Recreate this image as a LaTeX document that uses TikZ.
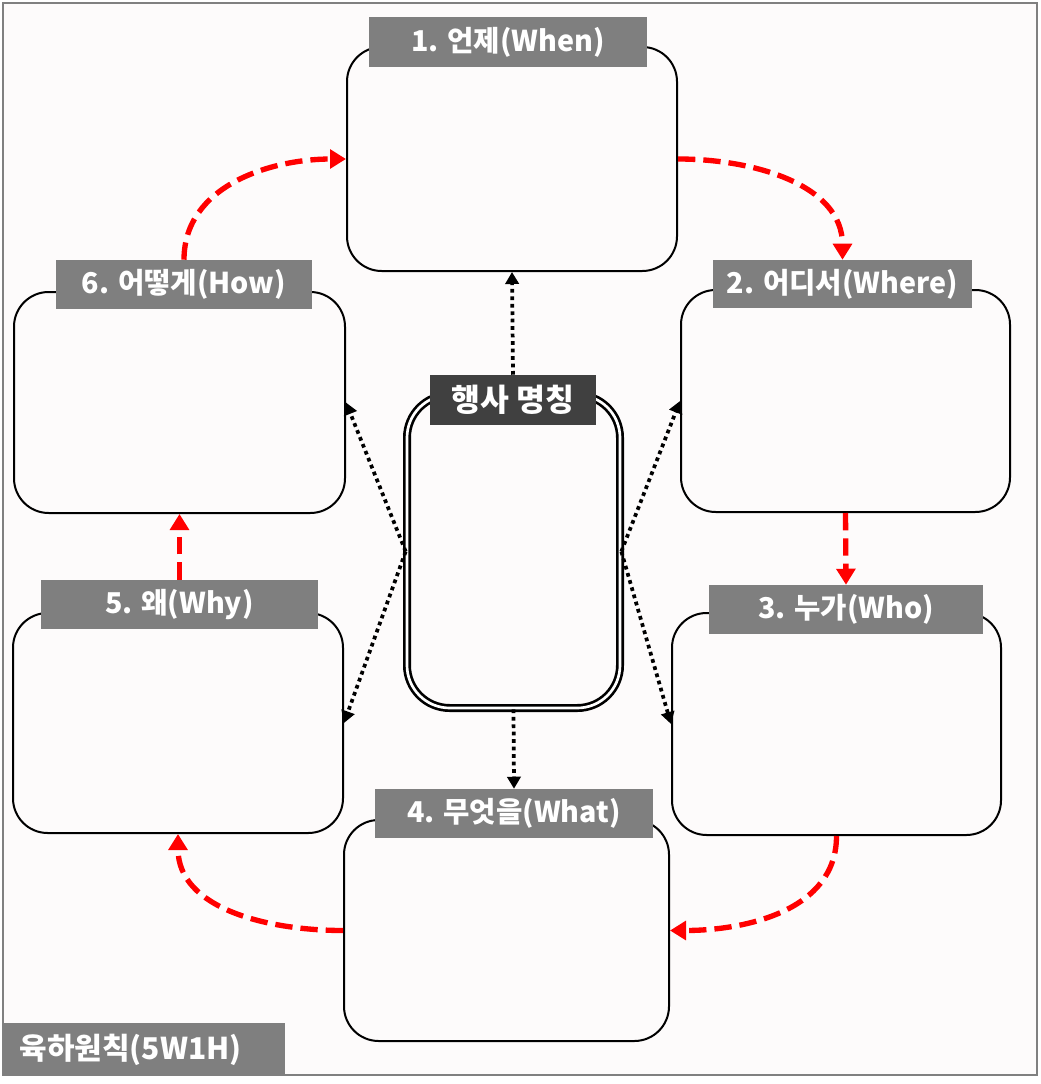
\documentclass[tikz,border=0pt]{standalone}
\usepackage{fontspec}
\setmainfont{Noto Sans CJK KR}
\usetikzlibrary{arrows.meta,fit}
\definecolor{labgray}{HTML}{7F7F7F}
\definecolor{darklab}{HTML}{404040}
\definecolor{bgc}{HTML}{FDFBFB}
\definecolor{redarr}{HTML}{FF0000}
\tikzset{
  box/.style={draw=black, line width=1.5pt, rounded corners=26pt, fill=bgc, inner sep=0pt},
  lab/.style={fill=labgray, text=white, inner sep=0pt, font=\bfseries\fontsize{21.5}{24}\selectfont},
  clab/.style={fill=darklab, text=white, inner sep=0pt, font=\bfseries\fontsize{23.5}{26}\selectfont},
  cbox/.style={draw=black, line width=2pt, double=white, double distance=2pt, rounded corners=32pt, inner sep=0pt},
  dotarr/.style={line width=2.8pt, dash pattern=on 2.8pt off 2.8pt, -{Triangle[length=9pt,width=10pt]}},
  redarrow/.style={draw=redarr, line width=4pt, dash pattern=on 13pt off 6pt, -{Triangle[length=12pt,width=14pt]}}
}
\begin{document}
\begin{tikzpicture}[x=0.75pt,y=-0.75pt]
\useasboundingbox (0,0) rectangle (1040,1084);
\draw[draw=gray, line width=1.2pt, fill=bgc] (3,3) rectangle (1037,1075);
% boxes
\node[box, fit={(347,47) (677,271)}] (b1) {};
\node[box, fit={(681,290) (1010,512)}] (b2) {};
\node[box, fit={(672,613) (1001,835)}] (b3) {};
\node[box, fit={(344,820) (669,1041)}] (b4) {};
\node[box, fit={(13,613) (343,833)}] (b5) {};
\node[box, fit={(14,292) (345,513)}] (b6) {};
\node[cbox, fit={(407,395) (620,708)}] (c) {};
% labels
\node[lab, minimum width={278*0.75pt}, minimum height={50*0.75pt}] (l1) at (508,42) {1. 언제(When)};
\node[lab, minimum width={259*0.75pt}, minimum height={48*0.75pt}] (l2) at (842.5,284) {2. 어디서(Where)};
\node[lab, minimum width={274*0.75pt}, minimum height={49*0.75pt}] (l3) at (846,609.5) {3. 누가(Who)};
\node[lab, minimum width={278*0.75pt}, minimum height={49*0.75pt}] (l4) at (514,813.5) {4. 무엇을(What)};
\node[lab, minimum width={277*0.75pt}, minimum height={49*0.75pt}] (l5) at (179.5,604.5) {5. 왜(Why)};
\node[lab, minimum width={256*0.75pt}, minimum height={49*0.75pt}] (l6) at (184,284.5) {6. 어떻게(How)};
\node[clab, minimum width={166*0.75pt}, minimum height={50*0.75pt}] (cl) at (513,400) {행사 명칭};
\node[lab, minimum width={282*0.75pt}, minimum height={53*0.75pt}, font=\bfseries\fontsize{22.5}{26}\selectfont] (title) at (144,1049.5) {\hspace*{-20pt}육하원칙(5W1H)};
% dotted connectors
\draw[dotarr] (cl.north) -- (b1.south);
\draw[dotarr] (c.south) -- (l4.north);
\draw[dotarr] (c.west) -- (b6.east);
\draw[dotarr] (c.west) -- (b5.east);
\draw[dotarr] (c.east) -- (b2.west);
\draw[dotarr] (c.east) -- (b3.west);
% red cycle
\draw[redarrow] (l6.north) to[out=90, in=180] (b1.west);
\draw[redarrow] (b1.east) to[out=0, in=90] (l2.north);
\draw[redarrow] (b2.south) -- (l3.north);
\draw[redarrow] (b3.south) to[out=-90, in=0] (b4.east);
\draw[redarrow] (b4.west) to[out=180, in=-90] (b5.south);
\draw[redarrow] (l5.north) -- (b6.south);
\end{tikzpicture}
\end{document}
